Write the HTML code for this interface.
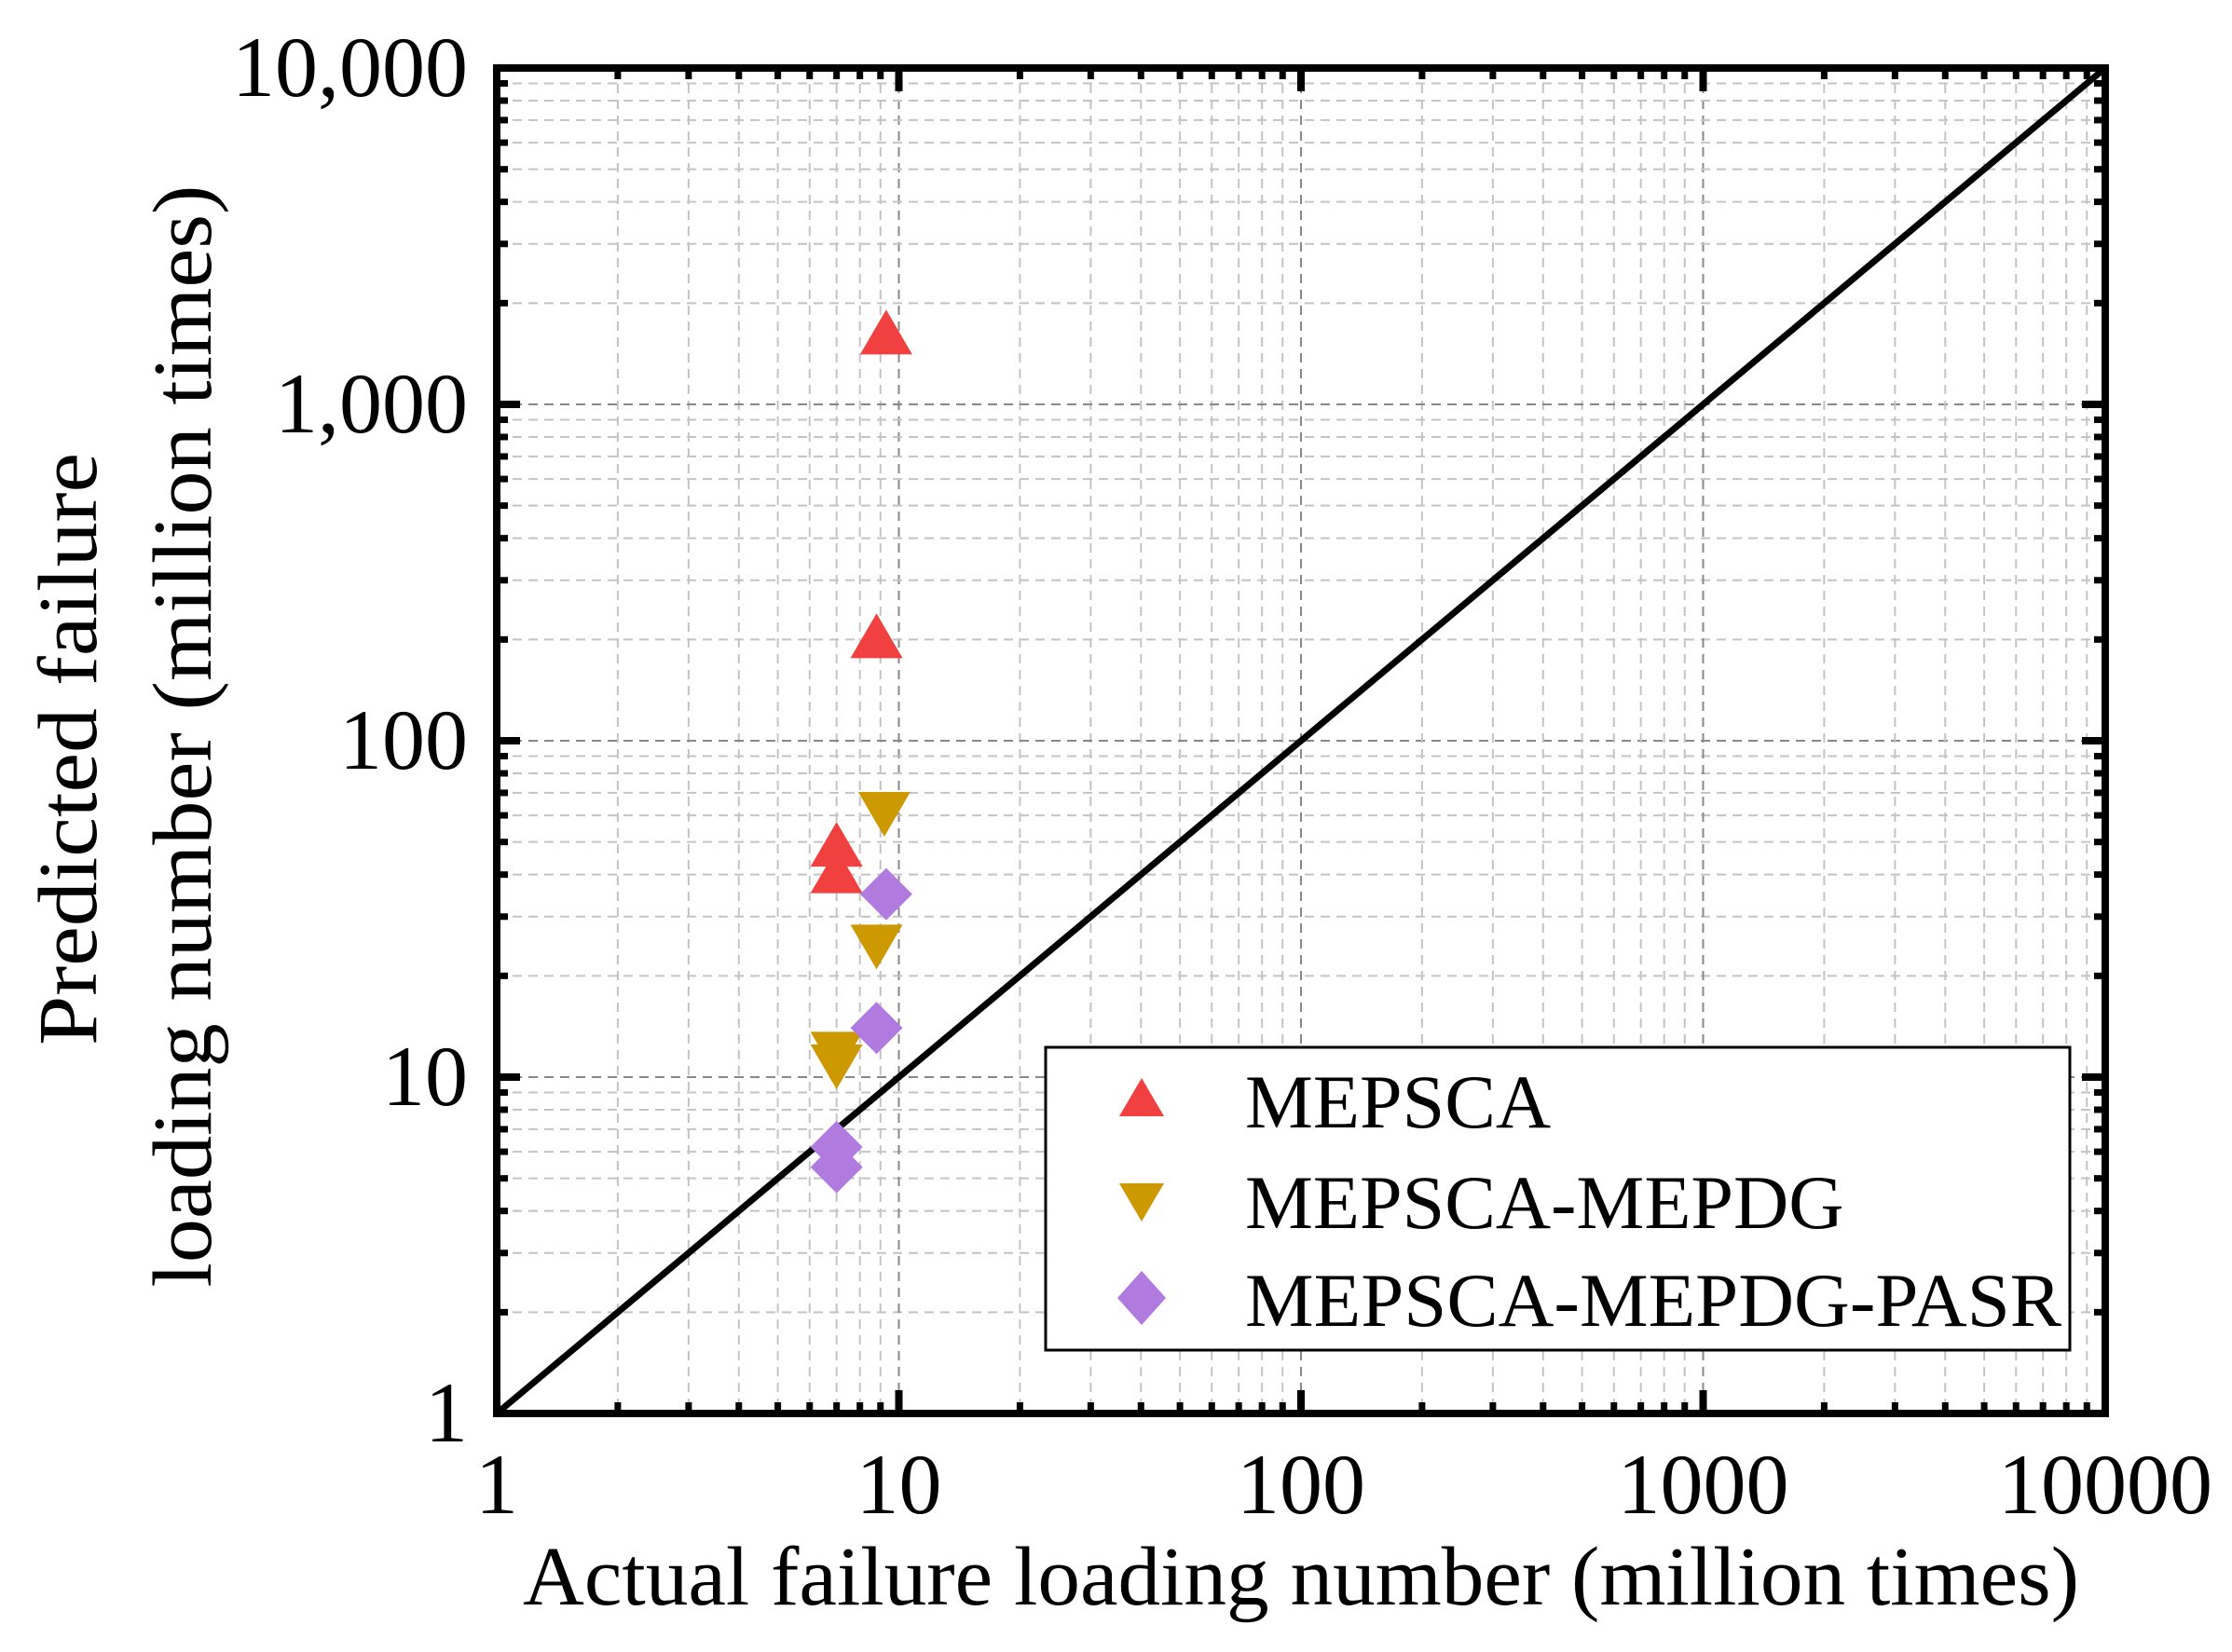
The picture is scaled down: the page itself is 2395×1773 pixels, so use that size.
<!DOCTYPE html>
<html><head><meta charset="utf-8"><style>
html,body{margin:0;padding:0;background:#fff}
svg{display:block}
text{font-family:"Liberation Serif",serif;fill:#000}
</style></head><body>
<svg id="chart" width="2395" height="1773" viewBox="0 0 2395 1773" xmlns="http://www.w3.org/2000/svg">
<g id="grid"></g>
<g id="ticks"></g>
<line id="diag" stroke="#000" stroke-width="7"/>
<g id="marks"></g>
<rect x="533" y="73" width="1726" height="1444" fill="none" stroke="#000" stroke-width="8"/>
<g id="labels"></g>
<text x="1396" y="1722" font-size="90" text-anchor="middle" textLength="1670" lengthAdjust="spacingAndGlyphs">Actual failure loading number (million times)</text>
<text transform="translate(103,804) rotate(-90)" font-size="90" text-anchor="middle" textLength="636" lengthAdjust="spacingAndGlyphs">Predicted failure</text>
<text transform="translate(226,790) rotate(-90)" font-size="90" text-anchor="middle" textLength="1183" lengthAdjust="spacingAndGlyphs">loading number (million times)</text>
<g>
<rect x="1122" y="1124" width="1099" height="325" fill="#fff" stroke="#000" stroke-width="3"/>
<polygon points="1225,1157 1249,1198 1201,1198" fill="#f04040"/>
<text x="1336" y="1210" font-size="82">MEPSCA</text>
<polygon points="1201,1270 1249,1270 1225,1311" fill="#cc9900"/>
<text x="1336" y="1318" font-size="82">MEPSCA-MEPDG</text>
<polygon points="1225,1364 1251,1393 1225,1422 1199,1393" fill="#b07adf"/>
<text x="1336" y="1423" font-size="82" textLength="876" lengthAdjust="spacingAndGlyphs">MEPSCA-MEPDG-PASR</text>
</g>
</svg>
<script>
const xTickVals=[1,10,100,1000,10000];
const xTickLabels=["1","10","100","1000","10000"];
const yTickVals=[1,10,100,1000,10000];
const yTickLabels=["1","10","100","1,000","10,000"];
const mepscaX=[9.3,8.8,7.0,7.0];
const mepscaY=[1600,200,48,40];
const mepdgX=[9.2,8.8,7.0,7.0];
const mepdgY=[62,25,12,11];
const pasrX=[9.3,8.8,7.0,7.0];
const pasrY=[35,14,6.2,5.4];
const diagX=[1,10000];

const L=533,R=2259,T=73,B=1517;
function sx(v){return L+(Math.log10(v)-0)/4*(R-L);}
function sy(v){return B-(Math.log10(v)-0)/4*(B-T);}
const NS="http://www.w3.org/2000/svg";
function mk(tag,attrs,parent){const e=document.createElementNS(NS,tag);for(const k in attrs)e.setAttribute(k,attrs[k]);parent.appendChild(e);return e;}
const grid=document.getElementById('grid'),ticks=document.getElementById('ticks'),labels=document.getElementById('labels'),marks=document.getElementById('marks');
for(let d=0;d<4;d++){for(let m=1;m<=10;m++){
  const v=Math.pow(10,d)*m; if(m===1&&d>0)continue;
  const major=(m===1||m===10);
  const X=sx(v),Y=sy(v);
  if(!(m===1&&d===0)&&!(m===10&&d===3)){
    const gx=mk('line',{x1:X,x2:X,y1:T,y2:B,stroke:major?'#888':'#c4c4c4','stroke-width':2,'stroke-dasharray':'10,7'},grid);
    
    
    const gy=mk('line',{x1:L,x2:R,y1:Y,y2:Y,stroke:major?'#888':'#c4c4c4','stroke-width':2,'stroke-dasharray':'10,7'},grid);
    
    
  }
  const len=major?25:12;
  [[X,B,X,B-len],[X,T,X,T+len],[L,Y,L+len,Y],[R,Y,R-len,Y]].forEach(p=>{
    const t=mk('line',{x1:p[0],y1:p[1],x2:p[2],y2:p[3],stroke:'#000','stroke-width':major?8:7},ticks);
    
    
  });
}}
xTickVals.forEach((v,i)=>{
  const t=mk('text',{x:sx(v),y:1624,'font-size':92,'text-anchor':'middle'},labels);
  t.textContent=xTickLabels[i];
  
  
});
yTickVals.forEach((v,i)=>{
  const t=mk('text',{x:502,y:sy(v)+30,'font-size':92,'text-anchor':'end'},labels);
  t.textContent=yTickLabels[i];
  
  
});
const dl=document.getElementById('diag');
dl.setAttribute('x1',sx(diagX[0]));dl.setAttribute('y1',sy(diagX[0]));
dl.setAttribute('x2',sx(diagX[1]));dl.setAttribute('y2',sy(diagX[1]));
mepscaX.forEach((v,i)=>{
  const X=sx(v),Y=sy(mepscaY[i]);
  const p=mk('polygon',{points:`${X},${Y-28} ${X+28},${Y+20} ${X-28},${Y+20}`,fill:'#f04040'},marks);
  
  
});
mepdgX.forEach((v,i)=>{
  const X=sx(v),Y=sy(mepdgY[i]);
  const p=mk('polygon',{points:`${X-28},${Y-20} ${X+28},${Y-20} ${X},${Y+28}`,fill:'#cc9900'},marks);
  
  
});
pasrX.forEach((v,i)=>{
  const X=sx(v),Y=sy(pasrY[i]);
  const p=mk('polygon',{points:`${X},${Y-28} ${X+28},${Y} ${X},${Y+28} ${X-28},${Y}`,fill:'#b07adf'},marks);
  
  
});
</script>
</body></html>
